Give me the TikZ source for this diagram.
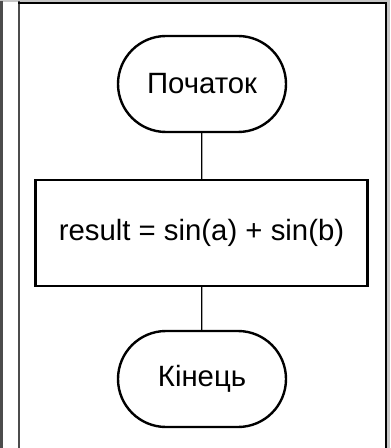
\documentclass[tikz,border=0pt]{standalone}
\usepackage{fontspec}
\setmainfont{Liberation Sans}
\begin{document}
\begin{tikzpicture}[x=0.75pt,y=0.75pt,line width=1.5pt,
  line cap=rect,font=\fontsize{22}{26}\selectfont,
  term/.style={draw,line width=1.8pt,rounded corners=36pt,minimum width=126pt,
    minimum height=72pt,inner sep=0pt},
  proc/.style={draw,line width=1.8pt,minimum width=249pt,minimum height=79.5pt,
    inner sep=0pt},
  link/.style={line width=0.9pt}]
  \useasboundingbox (0,0) rectangle (390,-448);
  % frame around the sheet
  \fill[gray!45] (0,0) rectangle (390,-2);
  \fill[gray!45] (387,-2) rectangle (390,-448);
  \draw[black!70] (1.5,-2)--(1.5,-448);
  \draw[black!70] (19,-2)--(19,-448);
  \draw (19,-3)--(385.5,-3)--(385.5,-448);
  % blocks
  \node[term] (start) at (202,-84) {Початок};
  \node[proc] (calc) at (201.5,-233) {result = sin(a) + sin(b)};
  \node[term] (stop) at (202,-379) {Кінець};
  \draw[link] (start)--(calc);
  \draw[link] (calc)--(stop);
\end{tikzpicture}
\end{document}
